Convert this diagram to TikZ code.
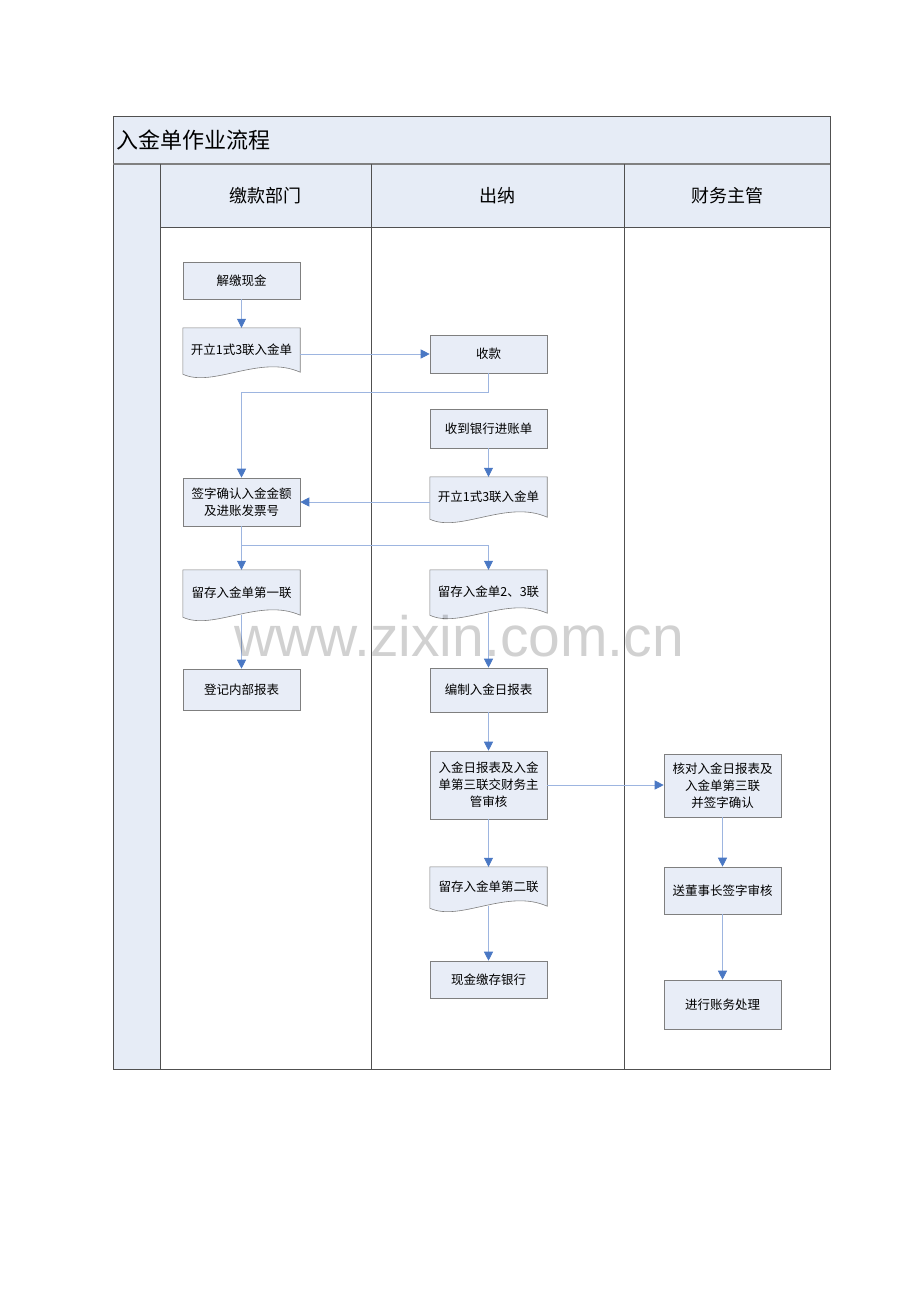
\documentclass[tikz,border=0pt]{standalone}
\usepackage{fontspec}
\setmainfont{Noto Sans CJK SC}
\newfontfamily\wmfont{Liberation Sans}
\usetikzlibrary{arrows.meta}
\definecolor{hdrfill}{HTML}{E6ECF6}
\definecolor{boxfill}{HTML}{E8EDF7}
\definecolor{boxline}{HTML}{7F7F7F}
\definecolor{frameline}{HTML}{505050}
\definecolor{connline}{HTML}{9DB5E0}
\definecolor{arrowblue}{HTML}{4A78C4}
\pgfdeclarelayer{frame}
\pgfdeclarelayer{docs}
\pgfsetlayers{frame,docs,main}
\newcommand\docshape[1]{\path[docshapestyle] (#1.north west) -- ([yshift=-2pt]#1.south west) .. controls ([xshift=30pt,yshift=-16pt]#1.south west) and ([xshift=-40pt,yshift=18pt]#1.south east) .. (#1.south east) -- (#1.north east) -- cycle;}
\begin{document}
\begin{tikzpicture}[x=1pt,y=-1pt,
  box/.style={draw=boxline, fill=boxfill, line width=0.6pt, minimum width=117pt, inner sep=1pt, align=center, font=\fontsize{12.5}{17}\selectfont},
  doc/.style={draw=none, fill=none, minimum width=117pt, inner sep=1pt, align=center, font=\fontsize{12.5}{17}\selectfont},
  docshapestyle/.style={draw=boxline, fill=boxfill, line width=0.6pt},
  conn/.style={draw=connline, line width=0.7pt, -{Triangle[width=9pt,length=9pt,color=arrowblue]}},
  fl/.style={draw=frameline, line width=0.8pt}]
\useasboundingbox (0,0) rectangle (920,1302);
\begin{pgfonlayer}{frame}
\fill[white] (0,0) rectangle (920,1302);
\fill[hdrfill] (113,116) rectangle (830,164);
\fill[hdrfill] (113,164) rectangle (160,1069);
\fill[hdrfill] (160,164) rectangle (830,227);
\draw[fl] (113,116) rectangle (830,1069);
\draw[draw=gray, line width=1.6pt] (113,164) -- (830,164);
\draw[fl] (160,164) -- (160,1069);
\draw[fl] (371,164) -- (371,1069);
\draw[fl] (624,164) -- (624,1069);
\draw[fl] (160,227) -- (830,227);
\end{pgfonlayer}
\node[anchor=west, font=\fontsize{22}{22}\selectfont, inner sep=0pt] (title) at (116,140) {入金单作业流程};
\node[font=\fontsize{18}{18}\selectfont] (h1) at (265.5,196) {缴款部门};
\node[font=\fontsize{18}{18}\selectfont] (h2) at (497.5,196) {出纳};
\node[font=\fontsize{18}{18}\selectfont] (h3) at (727,196) {财务主管};
% lane 1
\node[box, minimum height=37pt] (jj) at (241.5,280.5) {解缴现金};
\node[doc, minimum height=44pt] (kl1) at (241.5,350) {开立1式3联入金单};
\node[box, minimum height=48pt] (qz) at (241.5,502) {签字确认入金金额\\及进账发票号};
\node[doc, minimum height=45pt] (lc1) at (241.5,592.5) {留存入金单第一联};
\node[box, minimum height=41pt] (dj) at (241.5,689.5) {登记内部报表};
% lane 2
\node[box, minimum height=38pt] (sk) at (488.5,354) {收款};
\node[box, minimum height=39pt] (sd) at (488.5,428.5) {收到银行进账单};
\node[doc, minimum height=40pt] (kl2) at (488.5,497) {开立1式3联入金单};
\node[doc, minimum height=43pt] (lc23) at (488.5,591.5) {留存入金单2、3联};
\node[box, minimum height=44pt] (bz) at (488.5,690) {编制入金日报表};
\node[box, minimum height=68pt] (rb) at (488.5,785) {入金日报表及入金\\单第三联交财务主\\管审核};
\node[doc, minimum height=39pt] (lc2) at (488.5,886.5) {留存入金单第二联};
\node[box, minimum height=37pt] (xj) at (488.5,979.5) {现金缴存银行};
% lane 3
\node[box, minimum height=63pt] (hd) at (722.5,785.5) {核对入金日报表及\\入金单第三联\\并签字确认};
\node[box, minimum height=47pt] (sd2) at (722.5,890.5) {送董事长签字审核};
\node[box, minimum height=49pt] (jz) at (722.5,1004.5) {进行账务处理};
\begin{pgfonlayer}{docs}
\docshape{kl1}
\docshape{lc1}
\docshape{kl2}
\docshape{lc23}
\docshape{lc2}
\end{pgfonlayer}
% connectors
\draw[conn] (jj.south) -- (kl1.north);
\draw[conn] (kl1.east |- sk.west) -- (sk.west);
\draw[conn] (sk.south) -- ++(0,19) -| (qz.north);
\draw[conn] (sd.south) -- (kl2.north);
\draw[conn] (kl2.west |- qz.east) -- (qz.east);
\draw[conn] (qz.south) -- (lc1.north);
\draw[conn] (qz.south) -- ++(0,19) -| (lc23.north);
\draw[conn] (lc1.south) -- (dj.north);
\draw[conn] (lc23.south) -- (bz.north);
\draw[conn] (bz.south) -- (rb.north);
\draw[conn] (rb.east) -- (rb.east -| hd.west);
\draw[conn] (rb.south) -- (lc2.north);
\draw[conn] (lc2.south) -- (xj.north);
\draw[conn] (hd.south) -- (sd2.north);
\draw[conn] (sd2.south) -- (jz.north);
\node[anchor=base, font=\wmfont\fontsize{57}{57}\selectfont, text=black, opacity=0.18, inner sep=0pt] (wm) at (459,656) {www.zixin.com.cn};
\end{tikzpicture}
\end{document}
